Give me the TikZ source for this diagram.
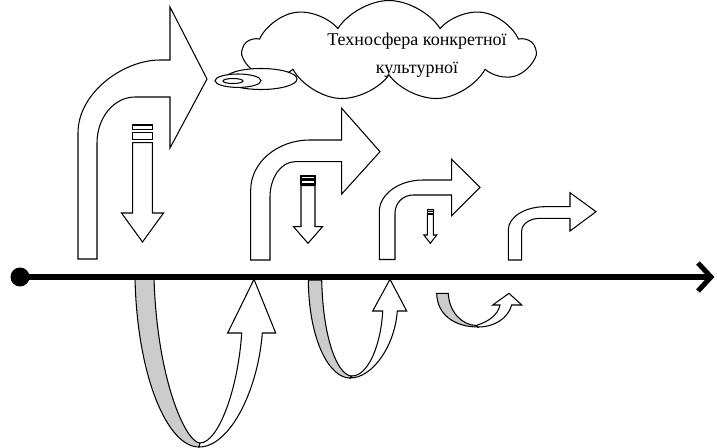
\documentclass[tikz,border=0pt]{standalone}
\usepackage{fontspec}
\setmainfont{Liberation Serif}
\usetikzlibrary{shapes.symbols,shapes.geometric}
\begin{document}
\begin{tikzpicture}[x=1pt,y=-1pt,
  outl/.style={draw=black, line width=1.05pt, fill=white, line join=miter},
  ribbon/.style={draw=black, line width=1.05pt, fill=gray!40},
  bub/.style={draw=black, line width=1.05pt, fill=white, ellipse, inner sep=0pt},
  lbl/.style={font=\fontsize{18}{28}\selectfont, align=center, inner sep=0pt}]
\useasboundingbox (0,0) rectangle (717,447);
% cloud
\node[cloud, draw=black, line width=1.05pt, fill=white, cloud puffs=9, cloud puff arc=115,
      aspect=2.8, minimum width=290pt, minimum height=101pt, inner sep=0pt] (cloud) at (389,51) {};
\node[lbl] (cloudtext) at (417,55) {Техносфера конкретної\\культурної};
% thought bubbles
\node[bub, minimum width=72pt, minimum height=21pt] (bub1) at (261,79) {};
\node[bub, minimum width=46pt, minimum height=13.4pt] (bub2) at (238,80.7) {};
\node[bub, minimum width=20pt, minimum height=5pt] (bub3) at (233,81) {};
% bent arrow 1
\draw[outl] (78,259) -- (78,133) .. controls (78,92.7) and (123.3,60) .. (160,60) -- (170,60) -- (170,7)
  -- (207,79) -- (170,148) -- (170,97) -- (135,97) .. controls (114,97) and (97,117.6) .. (97,143) -- (97,259) -- cycle;
% bent arrow 2
\draw[outl] (250.7,260) -- (250.7,190) .. controls (250.7,162.4) and (277.3,140) .. (310,140) -- (341.7,140) -- (341.7,108.3)
  -- (380,151.7) -- (341.7,194) -- (341.7,161.7) -- (295,161.7) .. controls (281.2,161.7) and (270,177.5) .. (270,197) -- (270,260) -- cycle;
% bent arrow 3
\draw[outl] (379.3,259.5) -- (379.3,211.7) .. controls (379.3,194.2) and (398.9,180) .. (423,180) -- (451.7,180) -- (451.7,159.3)
  -- (480,187.3) -- (451.7,215.7) -- (451.7,195) -- (413,195) .. controls (403.1,195) and (395,203.1) .. (395,213) -- (395,259.5) -- cycle;
% bent arrow 4
\draw[outl] (508.3,260) -- (508.3,230) .. controls (508.3,217.1) and (524.7,206.7) .. (545,206.7) -- (570,206.7) -- (570,192.7)
  -- (596,211.7) -- (570,231) -- (570,218.3) -- (540,218.3) .. controls (529.9,218.3) and (521.7,224) .. (521.7,231) -- (521.7,260) -- cycle;
% striped down arrows
\draw[outl] (132.7,125) rectangle (152.3,129.3);
\draw[outl] (132.7,132.7) rectangle (152.3,139.3);
\draw[outl] (132.7,142.7) -- (152.3,142.7) -- (152.3,213) -- (163.5,213) -- (142.5,242) -- (121.5,213) -- (132.7,213) -- cycle;
\draw[outl] (301,176) rectangle (315,178.3);
\draw[outl] (301,180) rectangle (315,184);
\draw[outl] (301,185.7) -- (315,185.7) -- (315,226.7) -- (322.5,226.7) -- (308,243.3) -- (293.5,226.7) -- (301,226.7) -- cycle;
\draw[outl, fill=gray!60] (427.3,209.3) rectangle (433.3,211.7);
\draw[outl] (427.3,211.7) rectangle (433.3,214);
\draw[outl] (427.3,214.3) -- (433.3,214.3) -- (433.3,235) -- (436.7,235) -- (430.3,243.3) -- (423.9,235) -- (427.3,235) -- cycle;
% loop 1
\draw[ribbon] (135,278) .. controls (137,375) and (167,447) .. (199,447)
  -- (200,443) .. controls (186,443) and (157,380) .. (154,278) -- cycle;
\draw[outl] (199,447) .. controls (230,447) and (258,390) .. (262.3,333) -- (275.7,333) -- (254,279.3) -- (227.7,333)
  -- (241.7,333) .. controls (238,390) and (218,443) .. (200,443) -- cycle;
% loop 2
\draw[ribbon] (308.3,280) .. controls (309,342) and (330,378) .. (350,378)
  -- (352,376) .. controls (338,376) and (323,340) .. (321.7,280) -- cycle;
\draw[outl] (350,378) .. controls (373,378) and (395,345) .. (397.3,311) -- (406.7,311) -- (390,279.3) -- (372.7,311)
  -- (382.7,311) .. controls (381,345) and (368,376) .. (352,376) -- cycle;
% loop 3
\draw[ribbon] (436.7,293.3) .. controls (437,315) and (455,327) .. (478,327)
  -- (476,325.5) .. controls (462,325) and (449,312) .. (448.3,293.3) -- cycle;
\draw[outl] (478,327) .. controls (495,327) and (508,318) .. (511.7,305) -- (521.7,305) -- (509,293.3) -- (492.7,305)
  -- (500,305) .. controls (498,315) and (488,322) .. (476,325.5) -- cycle;
% axis
\coordinate (axstart) at (20,277);
\coordinate (axend) at (711,277);
\draw[line width=5.5pt] (axstart) -- (axend);
\fill (axstart) circle (9.5pt);
\draw[line width=5pt, line join=miter] (698,263) -- (axend) -- (698,291);
\end{tikzpicture}
\end{document}
